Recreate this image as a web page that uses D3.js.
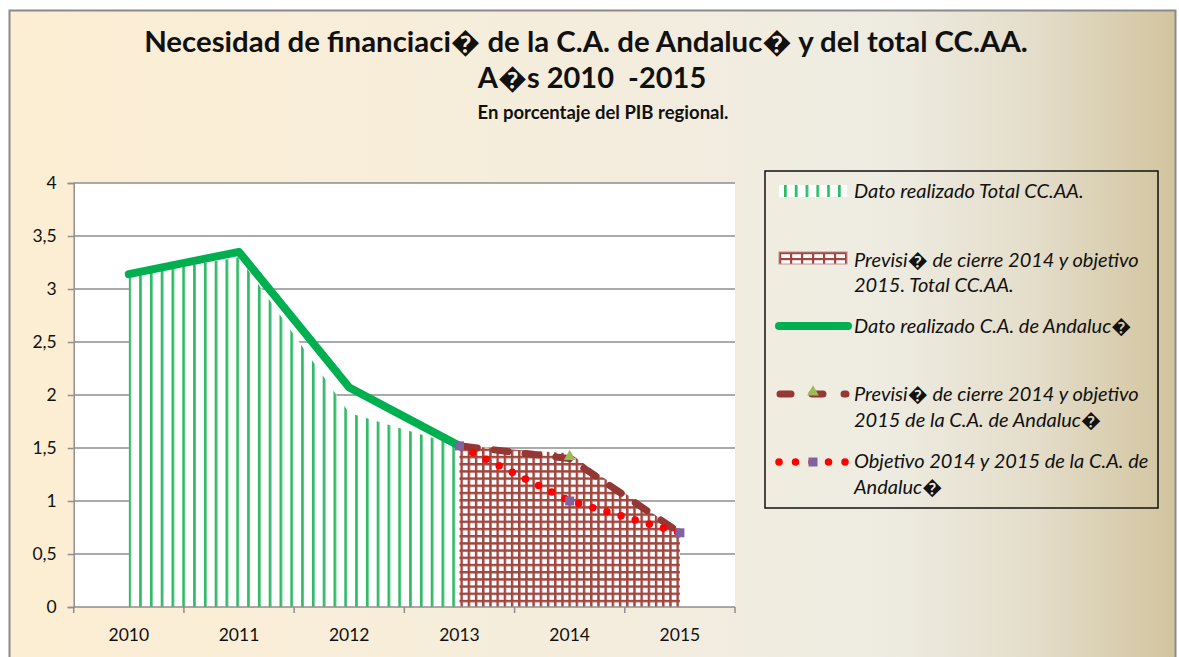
<!DOCTYPE html>
<html>
<head>
<meta charset="utf-8">
<script src="https://cdn.jsdelivr.net/npm/d3@7"></script>
<style>
  html, body { margin: 0; padding: 0; background: #fff; }
  svg text { font-family: Lato, "Open Sans", sans-serif; }
</style>
</head>
<body>
<svg id="chart" width="1179" height="657"></svg>
<script>
// data
const years = ["2010", "2011", "2012", "2013", "2014", "2015"];
const totalReal = [3.13, 3.30, 1.83, 1.52, null, null];   // Dato realizado Total CC.AA.
const totalPrev = [null, null, null, 1.52, 1.45, 0.70];   // Prevision total CC.AA.
const andReal = [3.14, 3.35, 2.07, 1.52, null, null];     // Dato realizado Andalucia
const andPrev = [null, null, null, 1.52, 1.40, 0.70];     // Prevision Andalucia
const andObj = [null, null, null, 1.52, 1.00, 0.70];      // Objetivo Andalucia
const yTicks = [0, 0.5, 1, 1.5, 2, 2.5, 3, 3.5, 4];
const prevMarker = [false, false, false, false, true, false];
const objMarker = [false, false, false, true, true, true];

const titleLines = ["Necesidad de financiaci\uFFFD de la C.A. de Andaluc\uFFFD y del total CC.AA.",
                    "A\uFFFDs 2010  -2015"];
const subtitle = "En porcentaje del PIB regional.";
const legendLabels = [
  ["Dato realizado Total CC.AA."],
  ["Previsi\uFFFD de cierre 2014 y objetivo", "2015. Total CC.AA."],
  ["Dato realizado C.A. de Andaluc\uFFFD"],
  ["Previsi\uFFFD de cierre 2014 y objetivo", "2015 de la C.A. de Andaluc\uFFFD"],
  ["Objetivo 2014 y 2015 de la C.A. de", "Andaluc\uFFFD"]
];

// colors
const green = "#00B050";
const stripeGreen = "#2EBA67";
const brown = "#953735";
const gridRed = "#A0463F";
const purple = "#8064A2";
const olive = "#9BBB59";

const svg = d3.select("#chart");
const defs = svg.append("defs");

// background gradient
const bg = defs.append("linearGradient").attr("id", "bg").attr("x1", 0).attr("x2", 1).attr("y1", 0).attr("y2", 0);
[[0, "#FDEED3"], [0.45, "#F5EDDC"], [0.75, "#EEECE2"], [0.88, "#E4DDCA"], [1, "#D2C49E"]]
  .forEach(s => bg.append("stop").attr("offset", s[0]).attr("stop-color", s[1]));

const plot = {left: 73.7, right: 735, top: 183, bottom: 607};

const x = d3.scalePoint().domain(years).range([plot.left, plot.right]).padding(0.5);
const y = d3.scaleLinear().domain([0, 4]).range([plot.bottom, plot.top]);

// hatch patterns
const stripes = defs.append("pattern").attr("id", "stripes")
  .attr("patternUnits", "userSpaceOnUse").attr("width", 10.8).attr("height", 10)
  .attr("x", x("2010") - 0.5);
stripes.append("rect").attr("width", 10.8).attr("height", 10).attr("fill", "#fff");
stripes.append("rect").attr("width", 2.7).attr("height", 10).attr("fill", stripeGreen);

const grid = defs.append("pattern").attr("id", "grid")
  .attr("patternUnits", "userSpaceOnUse").attr("width", 7.2).attr("height", 7.2)
  .attr("x", x("2013") + 1).attr("y", plot.bottom);
grid.append("rect").attr("width", 7.2).attr("height", 7.2).attr("fill", "#fff");
grid.append("rect").attr("x", -0.5).attr("width", 3.2).attr("height", 7.2).attr("fill", "#D9A6A4");
grid.append("rect").attr("y", -0.5).attr("width", 7.2).attr("height", 3.2).attr("fill", "#D9A6A4");
grid.append("rect").attr("width", 2.2).attr("height", 7.2).attr("fill", gridRed);
grid.append("rect").attr("width", 7.2).attr("height", 2.2).attr("fill", gridRed);

// chart frame
svg.append("rect").attr("x", 0).attr("y", 0).attr("width", 1179).attr("height", 657).attr("fill", "#fff");
svg.append("rect").attr("x", 9.5).attr("y", 10.5).attr("width", 1166).attr("height", 700)
  .attr("fill", "url(#bg)").attr("stroke", "#8A8A8A").attr("stroke-width", 2);

// titles
svg.append("text").attr("x", 586).attr("y", 52).attr("text-anchor", "middle")
  .attr("font-size", 29.4).attr("font-weight", "bold").attr("fill", "#111").text(titleLines[0]);
svg.append("text").attr("x", 592).attr("y", 88).attr("text-anchor", "middle")
  .style("white-space", "pre")
  .attr("font-size", 29).attr("font-weight", "bold").attr("fill", "#111").text(titleLines[1]);
svg.append("text").attr("x", 603).attr("y", 119).attr("text-anchor", "middle")
  .attr("font-size", 18.5).attr("font-weight", "bold").attr("fill", "#111").text(subtitle);

// plot area
svg.append("rect").attr("x", plot.left).attr("y", plot.top)
  .attr("width", plot.right - plot.left).attr("height", plot.bottom - plot.top).attr("fill", "#fff");

// gridlines
svg.append("g").selectAll("line").data(yTicks.filter(d => d > 0)).join("line")
  .attr("x1", plot.left).attr("x2", plot.right)
  .attr("y1", d => y(d)).attr("y2", d => y(d))
  .attr("stroke", "#8E8E8E").attr("stroke-width", 1.5);

// areas
const area = d3.area().defined(d => d != null)
  .x((d, i) => x(years[i])).y0(y(0)).y1(d => y(d));

svg.append("path").datum(totalReal).attr("d", area).attr("fill", "url(#stripes)");
svg.append("path").datum(totalPrev).attr("d", area).attr("fill", "url(#grid)");

// axes
const yAxis = d3.axisLeft(y).tickValues(yTicks).tickSize(6)
  .tickFormat(d => String(d).replace(".", ","));
const gy = svg.append("g").attr("transform", `translate(${plot.left},0)`).call(yAxis);
gy.select(".domain").attr("stroke", "#8E8E8E").attr("stroke-width", 1.5);
gy.selectAll(".tick line").attr("stroke", "#8E8E8E").attr("stroke-width", 1.5);
gy.selectAll(".tick text").attr("x", -17).attr("font-size", 17.5).attr("fill", "#111")
  .style("font-family", "Lato, sans-serif");

const band = (plot.right - plot.left) / years.length;
const xTicks = d3.range(years.length + 1).map(i => plot.left + i * band);
svg.append("line").attr("x1", plot.left).attr("x2", plot.right)
  .attr("y1", plot.bottom).attr("y2", plot.bottom)
  .attr("stroke", "#8E8E8E").attr("stroke-width", 1.5);
svg.append("g").selectAll("line").data(xTicks).join("line")
  .attr("x1", d => d).attr("x2", d => d).attr("y1", plot.bottom).attr("y2", plot.bottom + 6)
  .attr("stroke", "#8E8E8E").attr("stroke-width", 1.5);
svg.append("g").selectAll("text").data(years).join("text")
  .attr("x", d => x(d)).attr("y", 641).attr("text-anchor", "middle")
  .attr("font-size", 17.5).attr("fill", "#111").text(d => d);

// lines
const line = d3.line().defined(d => d != null)
  .x((d, i) => x(years[i])).y(d => y(d));

svg.append("path").datum(andReal).attr("d", line).attr("fill", "none")
  .attr("stroke", green).attr("stroke-width", 8)
  .attr("stroke-linejoin", "round").attr("stroke-linecap", "round");

svg.append("path").datum(andPrev).attr("d", line).attr("fill", "none")
  .attr("stroke", brown).attr("stroke-width", 7)
  .attr("stroke-dasharray", "14 17").attr("stroke-dashoffset", -4)
  .attr("stroke-linecap", "round");

svg.append("path").datum(andObj).attr("d", line).attr("fill", "none")
  .attr("stroke", "#FF0000").attr("stroke-width", 7.5)
  .attr("stroke-dasharray", "0 14.7").attr("stroke-dashoffset", -15)
  .attr("stroke-linecap", "round");

// markers
const tri = d3.symbol().type(d3.symbolTriangle).size(60);
svg.append("g").selectAll("path").data(andPrev.map((d, i) => ({v: d, i})).filter(d => prevMarker[d.i]))
  .join("path").attr("d", tri)
  .attr("transform", d => `translate(${x(years[d.i])},${y(d.v) - 2})`).attr("fill", olive);

svg.append("g").selectAll("rect").data(andObj.map((d, i) => ({v: d, i})).filter(d => objMarker[d.i]))
  .join("rect")
  .attr("x", d => x(years[d.i]) - 4.5).attr("y", d => y(d.v) - 4.5)
  .attr("width", 9).attr("height", 9).attr("fill", purple);

// legend
const lg = svg.append("g");
lg.append("rect").attr("x", 765).attr("y", 171).attr("width", 393).attr("height", 337)
  .attr("fill", "none").attr("stroke", "#111").attr("stroke-width", 1.5);

const legX = 854;
const legBase = [[198], [267, 292], [333], [401, 427], [468, 494]];
legendLabels.forEach((lines, k) => {
  lines.forEach((t, j) => {
    lg.append("text").attr("x", legX).attr("y", legBase[k][j])
      .attr("font-size", 20).attr("font-style", "italic").attr("fill", "#111").text(t);
  });
});

// legend swatches
const stripesL = defs.append("pattern").attr("id", "stripesL")
  .attr("patternUnits", "userSpaceOnUse").attr("width", 10.8).attr("height", 10).attr("x", 784);
stripesL.append("rect").attr("width", 10.8).attr("height", 10).attr("fill", "#fff");
stripesL.append("rect").attr("width", 2.7).attr("height", 10).attr("fill", stripeGreen);
lg.append("rect").attr("x", 779).attr("y", 185).attr("width", 68).attr("height", 12).attr("fill", "url(#stripesL)");

const gridL = defs.append("pattern").attr("id", "gridL")
  .attr("patternUnits", "userSpaceOnUse").attr("width", 11).attr("height", 6).attr("x", 779).attr("y", 252);
gridL.append("rect").attr("width", 11).attr("height", 6).attr("fill", "#fff");
gridL.append("rect").attr("width", 2.2).attr("height", 6).attr("fill", gridRed);
gridL.append("rect").attr("width", 11).attr("height", 2.2).attr("fill", gridRed);
lg.append("rect").attr("x", 779).attr("y", 252).attr("width", 68).attr("height", 12)
  .attr("fill", "url(#gridL)").attr("stroke", "#C48A89").attr("stroke-width", 1);

lg.append("line").attr("x1", 779).attr("x2", 848).attr("y1", 326).attr("y2", 326)
  .attr("stroke", green).attr("stroke-width", 8).attr("stroke-linecap", "round");

lg.append("line").attr("x1", 780).attr("x2", 846).attr("y1", 394).attr("y2", 394)
  .attr("stroke", brown).attr("stroke-width", 7).attr("stroke-linecap", "round")
  .attr("stroke-dasharray", "11 21");
lg.append("path").attr("d", tri).attr("transform", "translate(813,392)").attr("fill", olive);

lg.append("line").attr("x1", 779).attr("x2", 846).attr("y1", 462).attr("y2", 462)
  .attr("stroke", "#FF0000").attr("stroke-width", 7.5).attr("stroke-linecap", "round")
  .attr("stroke-dasharray", "0 16.5");
lg.append("rect").attr("x", 808.5).attr("y", 457.5).attr("width", 9).attr("height", 9)
  .attr("fill", purple);
</script>
</body>
</html>
